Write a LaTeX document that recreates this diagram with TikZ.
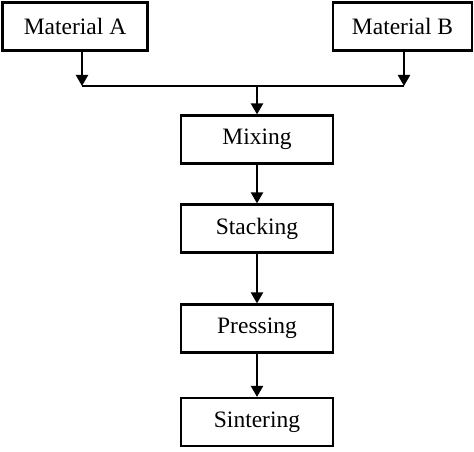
\documentclass[tikz,border=0pt]{standalone}
\usepackage{fontspec}
\setmainfont{Liberation Serif}
\usetikzlibrary{arrows.meta,positioning}
\begin{document}
\begin{tikzpicture}[x=1pt,y=-1pt,line width=2.2pt,>={Triangle[length=11pt,width=12pt]},
		box/.style={draw,line width=2.2pt,minimum height=48pt,inner sep=0pt,font=\fontsize{23.5}{27}\selectfont}]
				\useasboundingbox (0,0) rectangle (474,452);
				\node[box,minimum width=145pt] (matA) at (75,26.5) {Material A};
				\node[box,minimum width=139pt] (matB) at (402.5,26.5) {Material B};
				\node[box,minimum width=152pt] (mix) at (257,139.5) {Mixing};
				\node[box,minimum width=152pt] (stack) at (257,228.5) {Stacking};
				\node[box,minimum width=152pt] (press) at (257,328.5) {Pressing};
				\node[box,minimum width=152pt] (sinter) at (257,422) {Sintering};
				\coordinate (jA) at (82,86);
				\coordinate (jB) at (404,86);
				\coordinate (jM) at (257,86);
				\draw[->] (matA.south -| jA) -- (jA);
				\draw[->] (matB.south -| jB) -- (jB);
				\draw (jA) -- (jB);
				\draw[->] (jM) -- (mix.north);
				\draw[->] (mix) -- (stack);
				\draw[->] (stack) -- (press);
				\draw[->] (press) -- (sinter);
		\end{tikzpicture}
\end{document}
